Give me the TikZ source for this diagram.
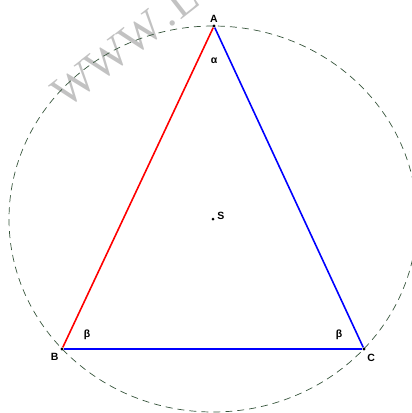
\documentclass[tikz,border=0pt]{standalone}
\usepackage{fontspec}
\setmainfont{Liberation Sans}
\newfontfamily\markfont{Liberation Serif}
\usetikzlibrary{positioning}

\definecolor{circgreen}{RGB}{55,85,60}

\begin{document}
\begin{tikzpicture}[
    x=1pt, y=-1pt,
    vertex/.style={
        circle,
        fill=black,
        inner sep=0pt,
        minimum size=3.2pt
    },
    lbl/.style={
        font=\bfseries\fontsize{10.5}{12}\selectfont,
        inner sep=1pt
    },
    side/.style={
        line width=1.6pt
    },
    umkreis/.style={
        draw=circgreen,
        line width=0.7pt,
        dash pattern=on 7pt off 5pt
    },
    watermark/.style={
        font=\markfont\fontsize{45}{45}\selectfont,
        text=black!24,
        inner sep=0pt
    }
]
    \useasboundingbox (0,0) rectangle (412,413);

    \node (mark) [watermark, rotate=38, anchor=base west] at (66,110) {WWW\kern4pt.\kern2pt L};

    \coordinate (S) at (213,219);
    \draw [umkreis] (S) ellipse [x radius=204pt, y radius=193pt];

    \node (A) [vertex] at (214,26) {};
    \node (B) [vertex] at (62,349) {};
    \node (C) [vertex] at (364,349) {};
    \node (Sdot) [vertex, minimum size=3pt] at (S) {};

    \draw [side, red] (A) -- (B);
    \draw [side, blue] (A) -- (C);
    \draw [side, blue] (B) -- (C);

    \node (labA) [lbl, above=1pt of A] {A};
    \node (labB) [lbl, below left=2pt and 1pt of B] {B};
    \node (labC) [lbl, below right=3pt and 1pt of C] {C};
    \node (labS) [lbl, above right=-3pt and 2pt of Sdot] {S};

    \node (alpha) [lbl] at (214,61) {α};
    \node (betaB) [lbl] at (87,335) {β};
    \node (betaC) [lbl] at (339,335) {β};

\end{tikzpicture}
\end{document}
